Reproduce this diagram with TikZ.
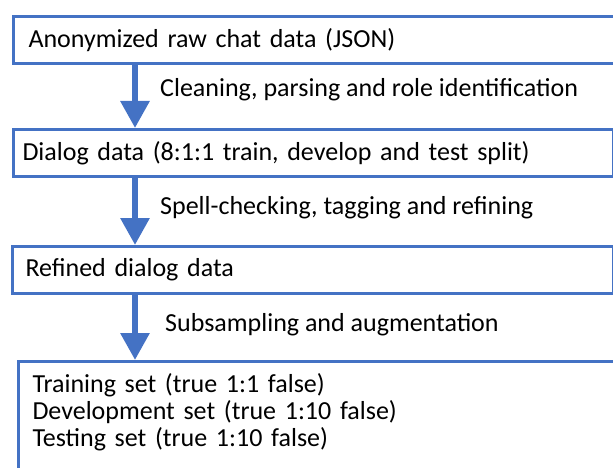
\documentclass[tikz,border=0pt]{standalone}
\usepackage{fontspec}
\setmainfont{Carlito}
\usetikzlibrary{arrows.meta,positioning}
\definecolor{flowblue}{HTML}{4472C4}

\begin{document}
\begin{tikzpicture}[x=1pt, y=-1pt, line join=miter,
    box/.style={draw=flowblue, line width=3pt, anchor=north west, text width=640pt,
      align=left, minimum height=47pt, inner ysep=0pt, font=\fontsize{26}{27}\selectfont},
    lbl/.style={anchor=west, inner sep=0pt, font=\fontsize{26}{27}\selectfont},
    flow/.style={flowblue, line width=6pt, -{Triangle[width=28pt,length=27pt]}}]
  \useasboundingbox (0,0) rectangle (613,468);
  \clip (0,0) rectangle (613,468);
  % boxes
  \node[box, inner xsep=15pt] (raw) at (12,15) {Anonymized raw chat data (JSON)};
  \node[box, inner xsep=9pt, text width=582pt] (dialog) at (12,128) {Dialog data (8:1:1 train, develop and test split)};
  \node[box, inner xsep=13pt, text width=575pt] (refined) at (11,245) {Refined dialog data};
  \node[box, inner xsep=14pt, inner ysep=12pt, minimum height=0pt] (sets) at (17,360)
    {Training set (true 1:1 false)\\Development set (true 1:10 false)\\Testing set (true 1:10 false)\rule[-40pt]{0pt}{40pt}};
  % arrows
  \coordinate (ax) at (135,0);
  \draw[flow] (raw.south -| ax) -- (dialog.north -| ax);
  \draw[flow] (dialog.south -| ax) -- (refined.north -| ax);
  \draw[flow] (refined.south -| ax) -- (sets.north -| ax);
  % labels
  \node[lbl] (clean) at (160,90) {Cleaning, parsing and role identification};
  \node[lbl] (spell) at (160,208) {Spell-checking, tagging and refining};
  \node[lbl] (subs) at (165,325) {Subsampling and augmentation};
\end{tikzpicture}
\end{document}
